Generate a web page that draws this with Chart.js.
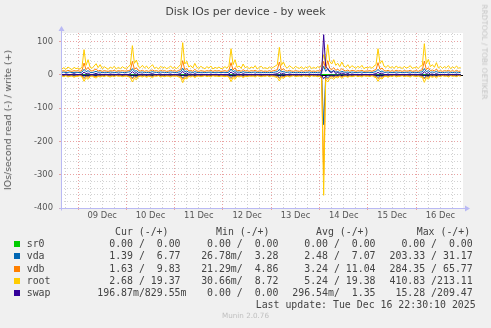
<!DOCTYPE html>
<html>
<head>
<meta charset="utf-8">
<title>Disk IOs per device - by week</title>
<script src="https://cdn.jsdelivr.net/npm/chart.js@4.4.1/dist/chart.umd.min.js"></script>
<style>
    html, body { margin: 0; padding: 0; background: #f0f0f0; }
    #wrap { position: relative; width: 491px; height: 328px; overflow: hidden; font-family: "DejaVu Sans", sans-serif; }
    #chart { position: absolute; left: 0; top: 0; }
    .t { position: absolute; white-space: pre; line-height: 12px; }
    .mono { font-family: "DejaVu Sans Mono", monospace; font-size: 9.9px; color: #444; }
    .sq { position: absolute; width: 6px; height: 6px; }
</style>
</head>
<body>
<div id="wrap">
    <canvas id="chart" width="491" height="328"></canvas>
    <div class="t" style="left:0; width:491px; text-align:center; top:6px; font-size:10.8px; color:#444;">Disk IOs per device - by week</div>
    <div class="t" style="left:8px; top:120px; font-size:9.4px; color:#555; transform:translate(-50%,-50%) rotate(-90deg);">IOs/second read (-) / write (+)</div>
    <div class="t" style="left:484px; top:52px; font-size:7.4px; color:#c4c4c4; transform:translate(-50%,-50%) rotate(90deg);">RRDTOOL / TOBI OETIKER</div>
    <div class="t" style="left:0; width:491px; text-align:center; top:310px; font-size:7.2px; color:#c0c0c0;">Munin 2.0.76</div>
    <div id="legend"></div>
</div>
<script>
// time axis: hours relative to 09 Dec 00:00, one sample per hour
const hours = [
    -8, -7, -6, -5, -4, -3, -2, -1,
    0, 1, 2, 3, 4, 5, 6, 7, 8, 9, 10, 11, 12, 13, 14, 15, 16, 17, 18, 19, 20, 21, 22, 23,
    24, 25, 26, 27, 28, 29, 30, 31, 32, 33, 34, 35, 36, 37, 38, 39, 40, 41, 42, 43, 44, 45, 46, 47,
    48, 49, 50, 51, 52, 53, 54, 55, 56, 57, 58, 59, 60, 61, 62, 63, 64, 65, 66, 67, 68, 69, 70, 71,
    72, 73, 74, 75, 76, 77, 78, 79, 80, 81, 82, 83, 84, 85, 86, 87, 88, 89, 90, 91, 92, 93, 94, 95,
    96, 97, 98, 99, 100, 101, 102, 103, 104, 105, 106, 107, 108, 109, 110, 111, 112, 113, 114, 115, 116, 117, 118, 119,
    120, 121, 122, 123, 124, 125, 126, 127, 128, 129, 130, 131, 132, 133, 134, 135, 136, 137, 138, 139, 140, 141, 142, 143,
    144, 145, 146, 147, 148, 149, 150, 151, 152, 153, 154, 155, 156, 157, 158, 159, 160, 161, 162, 163, 164, 165, 166, 167,
    168, 169, 170, 171, 172, 173, 174, 175, 176, 177, 178, 179, 180, 181, 182, 183, 184, 185, 186, 187, 188, 189, 190
];

// sr0 is flat zero for the whole week
const sr0Hours = [-8, 190];
const sr0Read = [0, 0];
const sr0Write = [0, 0];

const vdaWrite = [
    7, 8, 6, 7, 8, 6, 7, 7,
    7, 6, 8, 16, 9, 12, 7, 6, 8, 10, 7, 8, 6, 7, 7, 6, 8, 7, 7, 6, 8, 7, 7, 6,
    7, 8, 9, 18, 10, 12, 7, 7, 8, 6, 7, 6, 7, 9, 7, 7, 6, 8, 7, 7, 6, 7, 8, 7,
    7, 6, 8, 9, 19, 9, 11, 7, 8, 6, 9, 7, 6, 7, 7, 6, 7, 7, 8, 6, 7, 7, 7, 6,
    7, 7, 6, 8, 17, 9, 12, 7, 8, 6, 9, 7, 7, 6, 7, 7, 8, 6, 7, 7, 6, 7, 6, 7,
    6, 7, 8, 9, 16, 8, 10, 7, 7, 8, 7, 6, 7, 7, 6, 7, 6, 7, 7, 8, 6, 7, 6, 7,
    7, 9, 25, 10, 18, 11, 9, 12, 8, 9, 7, 10, 8, 7, 8, 6, 8, 7, 6, 7, 7, 8, 6, 7,
    7, 7, 6, 8, 9, 16, 9, 11, 7, 7, 8, 6, 7, 6, 8, 7, 7, 6, 7, 7, 7, 8, 6, 7,
    7, 6, 8, 8, 18, 9, 12, 7, 8, 7, 10, 6, 7, 6, 7, 7, 8, 6, 7, 6, 8, 6, 7
];
const vdaRead = [
    -2, -3, -2, -3, -2, -2, -3, -2,
    -2, -2, -3, -8, -4, -5, -3, -2, -3, -4, -2, -3, -2, -3, -2, -2, -3, -2, -3, -2, -2, -2, -3, -2,
    -2, -3, -4, -9, -4, -6, -3, -2, -3, -2, -3, -2, -3, -4, -2, -2, -2, -3, -2, -3, -2, -2, -3, -2,
    -2, -2, -3, -4, -10, -4, -5, -2, -3, -2, -4, -2, -2, -3, -2, -2, -3, -2, -3, -2, -2, -2, -3, -2,
    -2, -3, -2, -3, -8, -4, -5, -2, -3, -2, -4, -2, -3, -2, -2, -2, -3, -2, -2, -3, -2, -2, -2, -3,
    -2, -2, -3, -4, -8, -3, -5, -3, -2, -3, -2, -2, -3, -2, -2, -3, -2, -2, -2, -3, -2, -2, -2, -3,
    -2, -5, -150, -6, -9, -5, -4, -6, -3, -4, -2, -5, -3, -2, -4, -2, -3, -2, -2, -3, -2, -3, -2, -2,
    -2, -3, -2, -3, -4, -8, -4, -5, -3, -2, -3, -2, -3, -2, -3, -2, -2, -2, -3, -2, -2, -3, -2, -2,
    -3, -2, -3, -4, -9, -4, -6, -2, -3, -2, -4, -2, -3, -2, -2, -2, -3, -2, -2, -2, -3, -2, -2
];

const vdbWrite = [
    11, 12, 10, 13, 11, 10, 12, 11,
    12, 10, 13, 35, 15, 22, 12, 11, 14, 17, 11, 13, 10, 12, 11, 10, 12, 11, 13, 10, 12, 11, 12, 11,
    11, 12, 14, 40, 16, 21, 12, 11, 13, 10, 12, 10, 12, 14, 11, 12, 10, 13, 11, 12, 10, 11, 13, 11,
    12, 10, 13, 15, 42, 15, 19, 11, 13, 10, 16, 11, 10, 12, 11, 10, 12, 11, 13, 10, 12, 11, 12, 10,
    11, 12, 10, 14, 36, 14, 21, 11, 13, 10, 15, 11, 12, 10, 12, 11, 13, 10, 11, 12, 10, 11, 10, 12,
    10, 12, 13, 15, 38, 13, 18, 12, 11, 13, 11, 10, 12, 11, 10, 12, 10, 12, 11, 13, 10, 11, 10, 12,
    11, 15, 40, 17, 42, 19, 15, 21, 13, 16, 12, 18, 13, 11, 14, 10, 13, 12, 10, 12, 11, 13, 10, 11,
    11, 12, 10, 13, 15, 36, 16, 20, 12, 11, 13, 10, 12, 10, 13, 11, 12, 10, 12, 11, 11, 13, 10, 11,
    12, 10, 13, 14, 41, 15, 21, 12, 14, 11, 17, 10, 12, 10, 12, 11, 13, 10, 12, 10, 13, 10, 11
];
const vdbRead = [
    -3, -4, -2, -4, -3, -3, -5, -3,
    -3, -2, -4, -12, -5, -8, -4, -3, -5, -6, -3, -4, -3, -4, -2, -3, -4, -3, -4, -2, -3, -3, -4, -3,
    -3, -4, -5, -13, -6, -9, -4, -3, -4, -3, -5, -3, -4, -5, -3, -3, -2, -4, -3, -4, -3, -3, -4, -3,
    -3, -3, -4, -5, -14, -6, -8, -3, -4, -3, -5, -3, -3, -4, -3, -2, -4, -3, -4, -2, -3, -3, -4, -3,
    -3, -4, -3, -5, -12, -5, -8, -3, -4, -3, -5, -3, -4, -3, -3, -3, -4, -2, -3, -4, -3, -3, -2, -4,
    -3, -3, -4, -5, -11, -5, -7, -4, -3, -4, -3, -2, -4, -3, -3, -4, -2, -3, -3, -4, -2, -3, -3, -4,
    -3, -7, -300, -9, -13, -7, -5, -8, -4, -6, -3, -7, -4, -3, -5, -3, -4, -3, -2, -4, -3, -4, -2, -3,
    -3, -4, -2, -4, -5, -12, -6, -8, -4, -3, -5, -3, -4, -2, -4, -3, -3, -2, -4, -3, -3, -4, -2, -3,
    -4, -3, -4, -5, -13, -6, -8, -3, -5, -3, -6, -3, -4, -2, -3, -3, -4, -2, -3, -3, -4, -2, -3
];

const rootWrite = [
    17, 21, 16, 23, 19, 15, 22, 18,
    20, 16, 24, 75, 28, 45, 22, 19, 26, 33, 21, 30, 18, 24, 20, 16, 23, 19, 25, 17, 22, 18, 24, 20,
    19, 23, 30, 87, 34, 44, 24, 21, 28, 20, 26, 18, 24, 30, 19, 22, 17, 25, 20, 23, 18, 21, 26, 19,
    22, 18, 25, 30, 96, 32, 40, 23, 27, 20, 34, 22, 19, 25, 21, 18, 24, 20, 26, 17, 22, 19, 23, 18,
    20, 24, 19, 28, 78, 30, 45, 22, 26, 19, 32, 21, 24, 18, 23, 20, 27, 17, 22, 25, 19, 21, 18, 23,
    19, 22, 26, 30, 82, 28, 38, 24, 20, 27, 22, 18, 25, 21, 19, 24, 17, 23, 20, 26, 18, 22, 19, 24,
    21, 30, 60, 35, 90, 40, 32, 45, 28, 34, 24, 38, 26, 22, 30, 20, 27, 23, 19, 25, 21, 28, 18, 22,
    20, 24, 19, 26, 30, 78, 34, 42, 25, 22, 28, 20, 24, 19, 26, 21, 23, 18, 25, 20, 22, 27, 19, 21,
    23, 19, 25, 28, 93, 33, 46, 24, 30, 22, 36, 20, 25, 19, 24, 21, 27, 18, 23, 20, 26, 19, 22
];
const rootRead = [
    -4, -6, -3, -7, -5, -4, -8, -5,
    -5, -3, -7, -20, -9, -14, -6, -4, -8, -10, -5, -7, -4, -6, -3, -5, -7, -4, -6, -3, -5, -4, -6, -5,
    -4, -6, -9, -22, -11, -15, -6, -5, -7, -4, -8, -5, -6, -9, -4, -5, -3, -7, -5, -6, -4, -5, -7, -4,
    -5, -4, -7, -9, -24, -10, -13, -5, -7, -4, -9, -5, -4, -6, -5, -3, -6, -4, -7, -3, -5, -4, -6, -4,
    -5, -6, -4, -8, -21, -9, -14, -5, -7, -4, -9, -5, -6, -4, -5, -4, -7, -3, -5, -6, -4, -5, -3, -6,
    -4, -5, -7, -9, -19, -8, -11, -6, -4, -7, -5, -3, -6, -5, -4, -6, -3, -5, -4, -7, -3, -5, -4, -6,
    -5, -12, -362, -15, -22, -12, -9, -14, -7, -10, -5, -11, -6, -5, -8, -4, -6, -5, -3, -6, -4, -7, -3, -5,
    -4, -6, -3, -7, -9, -20, -10, -13, -6, -5, -8, -4, -6, -3, -7, -5, -5, -3, -6, -4, -5, -7, -3, -5,
    -6, -4, -7, -8, -23, -9, -14, -5, -8, -5, -10, -4, -6, -3, -5, -4, -7, -3, -5, -4, -6, -3, -5
];

const swapWrite = [
    1, 0, 2, 1, 0, 1, 3, 1,
    0, 1, 2, 8, 3, 5, 1, 0, 2, 4, 1, 2, 0, 1, 1, 0, 2, 1, 1, 0, 2, 1, 0, 1,
    1, 0, 3, 9, 4, 6, 1, 1, 2, 0, 1, 0, 2, 3, 1, 0, 1, 2, 0, 1, 0, 1, 2, 0,
    1, 0, 2, 3, 10, 3, 5, 1, 2, 0, 3, 1, 0, 1, 1, 0, 1, 0, 2, 0, 1, 1, 0, 1,
    0, 1, 0, 2, 8, 3, 6, 1, 2, 0, 3, 1, 1, 0, 1, 0, 2, 0, 1, 1, 0, 1, 0, 1,
    0, 1, 2, 3, 7, 2, 4, 1, 0, 2, 1, 0, 1, 1, 0, 1, 0, 1, 0, 2, 0, 1, 0, 1,
    1, 4, 120, 25, 18, 8, 6, 12, 3, 7, 2, 5, 3, 1, 4, 0, 2, 1, 0, 1, 0, 2, 0, 1,
    0, 1, 0, 2, 3, 7, 3, 5, 1, 0, 2, 0, 1, 0, 2, 1, 0, 0, 1, 0, 1, 2, 0, 1,
    1, 0, 2, 2, 9, 3, 6, 1, 2, 0, 4, 0, 1, 0, 1, 0, 2, 0, 1, 0, 2, 0, 1
];
const swapRead = [
    0, -0.3, 0, -0.5, -0.2, 0, -0.4, 0,
    -0.2, 0, -0.5, -2, -0.8, -1, -0.3, 0, -0.4, -0.6, 0, -0.3, 0, -0.2, 0, -0.3, 0, -0.2, -0.4, 0, -0.2, 0, -0.3, 0,
    0, -0.3, -0.6, -2, -0.9, -1, -0.2, 0, -0.3, 0, -0.4, 0, -0.2, -0.5, 0, -0.2, 0, -0.3, 0, -0.2, 0, -0.3, 0, -0.2,
    0, -0.2, -0.4, -0.6, -2.5, -0.7, -1, 0, -0.3, 0, -0.5, 0, -0.2, 0, -0.3, 0, -0.2, 0, -0.4, 0, -0.2, 0, -0.3, 0,
    -0.2, 0, -0.3, -0.5, -2, -0.6, -1, 0, -0.3, 0, -0.5, 0, -0.2, 0, -0.3, 0, -0.2, 0, -0.3, 0, -0.2, 0, -0.2, 0,
    0, -0.2, -0.4, -0.5, -1.8, -0.5, -0.8, -0.2, 0, -0.3, 0, -0.2, 0, -0.3, 0, -0.2, 0, -0.3, 0, -0.2, 0, -0.3, 0, -0.2,
    -0.3, -1.5, -12, -5, -3, -1.5, -1, -2, -0.6, -1.2, -0.4, -0.8, -0.5, -0.2, -0.6, 0, -0.3, -0.2, 0, -0.3, 0, -0.4, 0, -0.2,
    0, -0.2, 0, -0.4, -0.6, -2, -0.7, -1, -0.3, 0, -0.4, 0, -0.2, 0, -0.3, -0.2, 0, 0, -0.3, 0, -0.2, -0.4, 0, -0.2,
    -0.2, 0, -0.4, -0.5, -2.2, -0.7, -1.1, -0.2, -0.4, 0, -0.6, 0, -0.2, 0, -0.3, 0, -0.4, 0, -0.2, 0, -0.4, 0, -0.2
];

// axis ticks
const xGridHours = [-6, 0, 6, 12, 18, 24, 30, 36, 42, 48, 54, 60, 66, 72, 78, 84, 90, 96, 102, 108, 114,
    120, 126, 132, 138, 144, 150, 156, 162, 168, 174, 180, 186];
const dayLabels = ['09 Dec', '10 Dec', '11 Dec', '12 Dec', '13 Dec', '14 Dec', '15 Dec', '16 Dec'];
const yTicks = [-400, -380, -360, -340, -320, -300, -280, -260, -240, -220, -200, -180, -160, -140, -120,
    -100, -80, -60, -40, -20, 0, 20, 40, 60, 80, 100, 120];

// legend table
const legendNames = ['sr0', 'vda', 'vdb', 'root', 'swap'];
const legendColors = ['#00CC00', '#0066B3', '#FF8000', '#FFCC00', '#330099'];
const curText = ['  0.00 /  0.00 ', '  1.39 /  6.77 ', '  1.63 /  9.83 ', '  2.68 / 19.37 ', '196.87m/829.55m'];
const minText = ['  0.00 /  0.00 ', ' 26.78m/  3.28 ', ' 21.29m/  4.86 ', ' 30.66m/  8.72 ', '  0.00 /  0.00 '];
const avgText = ['  0.00 /  0.00 ', '  2.48 /  7.07 ', '  3.24 / 11.04 ', '  5.24 / 19.38 ', '296.54m/  1.35 '];
const maxText = ['  0.00 /  0.00 ', '203.33 / 31.17 ', '284.35 / 65.77 ', '410.83 /213.11 ', ' 15.28 /209.47 '];
const headers = ['Cur (-/+)', 'Min (-/+)', 'Avg (-/+)', 'Max (-/+)'];
const lastUpdate = 'Last update: Tue Dec 16 22:30:10 2025';

function buildLegend() {
    const box = document.getElementById('legend');
    let html = '';
    const headX = [115, 216, 316, 416.7];
    headers.forEach((h, i) => {
        html += `<div class="t mono" style="left:${headX[i]}px; top:${232.3 - 6}px;">${h}</div>`;
    });
    const colX = [97.3, 195.2, 292.3, 389.5];
    legendNames.forEach((name, r) => {
        const y = 244.3 + r * 12.1;
        html += `<div class="sq" style="left:14px; top:${y - 3}px; background:${legendColors[r]};"></div>`;
        html += `<div class="t mono" style="left:26.7px; top:${y - 6}px;">${name}</div>`;
        [curText, minText, avgText, maxText].forEach((col, c) => {
            html += `<div class="t mono" style="left:${colX[c]}px; top:${y - 6}px;">${col[r]}</div>`;
        });
    });
    html += `<div class="t mono" style="left:255.7px; top:${305 - 6}px;">${lastUpdate}</div>`;
    box.innerHTML = html;
}

function pts(times, vals) {
    return times.map((t, i) => ({ x: t, y: vals[i] }));
}

const series = [
    { name: 'sr0', times: sr0Hours, read: sr0Read, write: sr0Write },
    { name: 'vda', times: hours, read: vdaRead, write: vdaWrite },
    { name: 'vdb', times: hours, read: vdbRead, write: vdbWrite },
    { name: 'root', times: hours, read: rootRead, write: rootWrite },
    { name: 'swap', times: hours, read: swapRead, write: swapWrite }
];

const datasets = [];
series.forEach((s, i) => {
    // later devices are painted on top, like munin does
    ['read', 'write'].forEach(kind => {
        datasets.push({
            label: `${s.name} ${kind}`,
            data: pts(s.times, s[kind]),
            borderColor: legendColors[i],
            borderWidth: 1,
            pointRadius: 0,
            tension: 0,
            order: 10 - i
        });
    });
});

const GRID_MINOR = '#d2d2d2';
const GRID_MAJOR = '#e9a3a3';
const AXIS_COLOR = '#b9b9f4';

function drawZeroLine(chart) {
    const { ctx, chartArea: a, scales } = chart;
    const y0 = Math.round(scales.y.getPixelForValue(0)) + 0.5;
    ctx.save();
    ctx.strokeStyle = '#000000';
    ctx.lineWidth = 1;
    ctx.beginPath();
    ctx.moveTo(a.left, y0);
    ctx.lineTo(a.right, y0);
    ctx.stroke();
    ctx.restore();
}

const munBackground = {
    id: 'munBackground',
    beforeDraw(chart) {
        const { ctx, chartArea: a } = chart;
        ctx.save();
        ctx.fillStyle = '#f0f0f0';
        ctx.fillRect(0, 0, chart.width, chart.height);
        ctx.fillStyle = '#ffffff';
        ctx.fillRect(a.left, a.top, a.right - a.left, a.bottom - a.top);
        ctx.restore();
    },
    afterDatasetDraw(chart, args) {
        // the black zero line sits above sr0 but under the other devices
        if (args.index === 0) drawZeroLine(chart);
    },
    afterDraw(chart) {
        // axis lines with little arrow heads
        const { ctx, chartArea: a } = chart;
        const x = Math.round(a.left) + 0.5;
        const y = Math.round(a.bottom) + 0.5;
        ctx.save();
        ctx.strokeStyle = AXIS_COLOR;
        ctx.fillStyle = AXIS_COLOR;
        ctx.lineWidth = 1;
        ctx.beginPath();
        ctx.moveTo(x, y + 2);
        ctx.lineTo(x, a.top - 3);
        ctx.moveTo(x - 2, y);
        ctx.lineTo(a.right + 3, y);
        ctx.stroke();
        ctx.beginPath();
        ctx.moveTo(x - 3, a.top - 2);
        ctx.lineTo(x + 3, a.top - 2);
        ctx.lineTo(x, a.top - 7);
        ctx.closePath();
        ctx.fill();
        ctx.beginPath();
        ctx.moveTo(a.right + 2, y - 3);
        ctx.lineTo(a.right + 2, y + 3);
        ctx.lineTo(a.right + 7, y);
        ctx.closePath();
        ctx.fill();
        ctx.restore();
    }
};

const tickFont = { family: 'DejaVu Sans', size: 8.4 };

new Chart(document.getElementById('chart').getContext('2d'), {
    type: 'line',
    data: { datasets },
    plugins: [munBackground],
    options: {
        responsive: false,
        animation: false,
        devicePixelRatio: 1,
        layout: { padding: { left: 0, right: 28, top: 33, bottom: 100 } },
        plugins: { legend: { display: false }, tooltip: { enabled: false } },
        scales: {
            x: {
                type: 'linear',
                min: -8.45,
                max: 191.2,
                afterBuildTicks: scale => { scale.ticks = xGridHours.map(v => ({ value: v })); },
                afterFit: scale => { scale.height = 20; },
                grid: {
                    color: c => (c.tick && c.tick.value % 24 === 0 ? GRID_MAJOR : GRID_MINOR),
                    tickColor: c => (c.tick && c.tick.value % 24 === 0 ? GRID_MAJOR : 'rgba(0,0,0,0)'),
                    tickLength: 2
                },
                border: { display: false, dash: [1, 2] },
                ticks: {
                    autoSkip: false,
                    maxRotation: 0,
                    minRotation: 0,
                    padding: 1,
                    color: '#555',
                    font: tickFont,
                    callback: v => (v % 24 === 12 ? dayLabels[(v - 12) / 24] : '')
                }
            },
            y: {
                min: -400,
                max: 125,
                afterBuildTicks: scale => { scale.ticks = yTicks.map(v => ({ value: v })); },
                afterFit: scale => { scale.width = 61; },
                grid: {
                    color: c => (c.tick && c.tick.value % 100 === 0 ? GRID_MAJOR : GRID_MINOR),
                    tickColor: c => (c.tick && c.tick.value % 100 === 0 ? GRID_MAJOR : 'rgba(0,0,0,0)'),
                    tickLength: 2
                },
                border: { display: false, dash: [1, 2] },
                ticks: {
                    autoSkip: false,
                    padding: 6,
                    color: '#555',
                    font: tickFont,
                    callback: v => (v % 100 === 0 ? String(v) : '')
                }
            }
        }
    }
});

buildLegend();
</script>
</body>
</html>
